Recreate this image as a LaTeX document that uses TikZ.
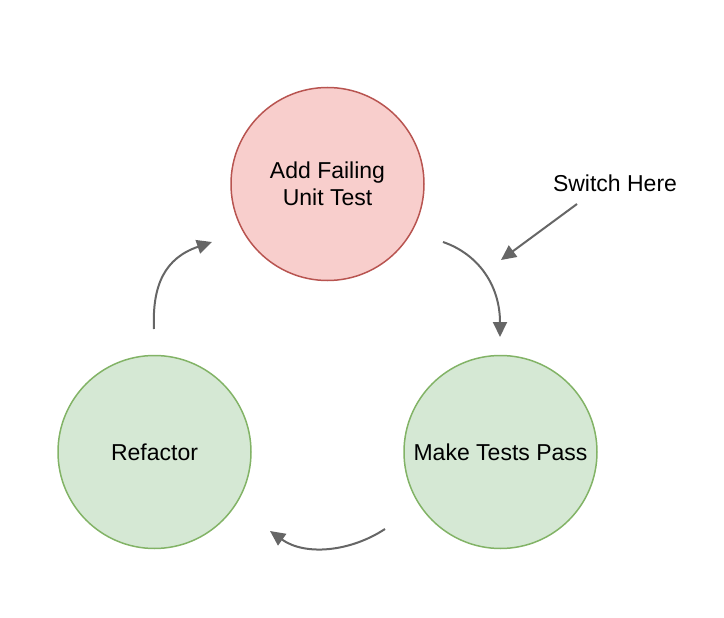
\documentclass[tikz,border=0pt]{standalone}
\usepackage{fontspec}
\setmainfont{Liberation Sans}
\usetikzlibrary{arrows.meta}
\definecolor{redfill}{HTML}{F8CECC}
\definecolor{redline}{HTML}{B85450}
\definecolor{greenfill}{HTML}{D5E8D4}
\definecolor{greenline}{HTML}{82B366}
\definecolor{arrowgray}{HTML}{666666}
\tikzset{
  stepcircle/.style={circle, minimum size=193pt, inner sep=0pt, line width=1.5pt, align=center,
    font=\fontsize{23}{27}\selectfont},
  redstep/.style={stepcircle, fill=redfill, draw=redline},
  greenstep/.style={stepcircle, fill=greenfill, draw=greenline},
  flow/.style={draw=arrowgray, line width=2pt, -{Triangle[length=15pt,width=14pt]}},
  label/.style={font=\fontsize{23}{27}\selectfont, inner sep=0pt}
}
\begin{document}
\begin{tikzpicture}[x=1pt,y=-1pt]
\useasboundingbox (0,0) rectangle (724,618);
\node[redstep] (add) at (327.5,184) {Add Failing\\Unit Test};
\node[greenstep] (refactor) at (154.5,452) {Refactor};
\node[greenstep] (pass) at (500.5,452) {Make Tests Pass};
\node[label] (switch) at (615,183) {Switch Here};

\coordinate (a1s) at (443,242);
\coordinate (a1e) at (500,337);
\coordinate (a2s) at (385,529);
\coordinate (a2e) at (270,531);
\coordinate (a3s) at (154,329);
\coordinate (a3e) at (212,242);
\coordinate (sws) at (577,204);
\coordinate (swe) at (501,260);

\draw[flow] (a1s) .. controls (478,254) and (500,285) .. (a1e);
\draw[flow] (a2s) .. controls (350,552) and (305,556) .. (a2e);
\draw[flow] (a3s) .. controls (152,285) and (165,258) .. (a3e);
\draw[flow] (sws) -- (swe);
\end{tikzpicture}
\end{document}
